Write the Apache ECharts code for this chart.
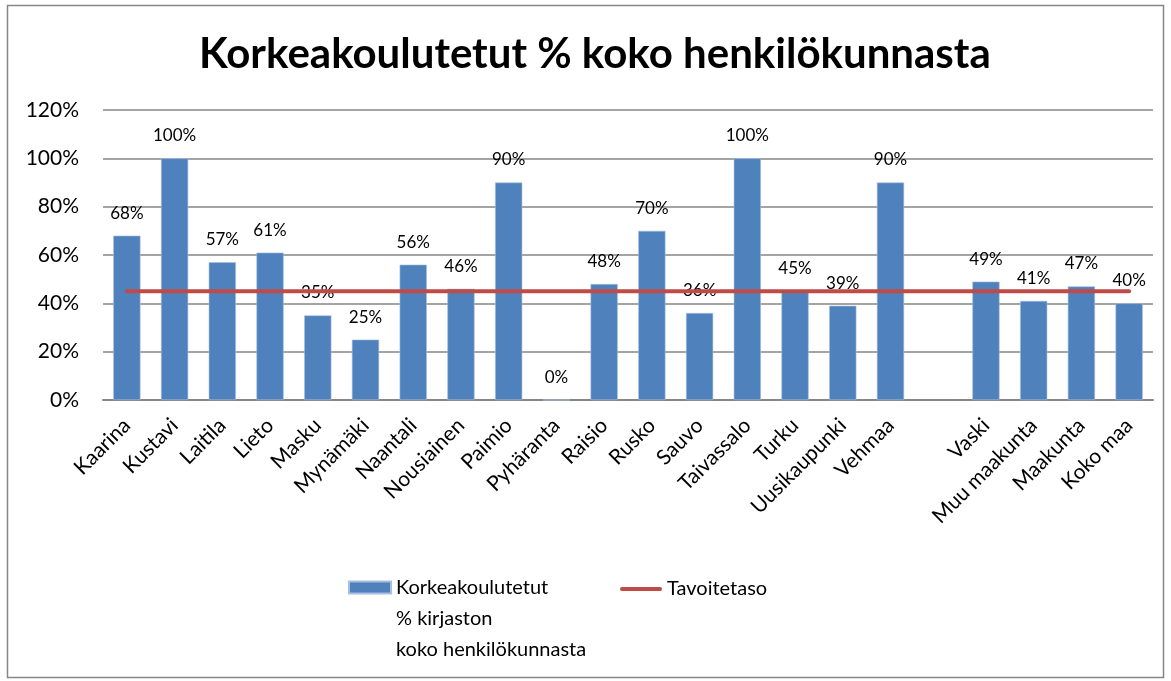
<!DOCTYPE html>
<html lang="fi">
<head>
    <meta charset="UTF-8">
    <title>Korkeakoulutetut</title>
    <script src="https://cdnjs.cloudflare.com/ajax/libs/echarts/6.0.0/echarts.min.js"></script>
    <style>
        html, body { margin: 0; padding: 0; background: #fff; }
    </style>
</head>
<body>
    <div id="main" style="width: 1171px;height:681px;"></div>

    <script>
        // kunnat + vertailut, tyhjä väli Vehmaan ja Vaskin välissä
        const kunnat = ['Kaarina', 'Kustavi', 'Laitila', 'Lieto', 'Masku', 'Mynämäki', 'Naantali',
            'Nousiainen', 'Paimio', 'Pyhäranta', 'Raisio', 'Rusko', 'Sauvo', 'Taivassalo', 'Turku',
            'Uusikaupunki', 'Vehmaa', '', 'Vaski', 'Muu maakunta', 'Maakunta', 'Koko maa'];
        const korkeakoulutetut = [68, 100, 57, 61, 35, 25, 56, 46, 90, 0, 48, 70, 36, 100, 45,
            39, 90, null, 49, 41, 47, 40];
        const tavoitetaso = [45, 45, 45, 45, 45, 45, 45, 45, 45, 45, 45, 45, 45, 45, 45,
            45, 45, 45, 45, 45, 45, 45];
        const yTicks = [0, 20, 40, 60, 80, 100, 120];

        const sarja1 = 'Korkeakoulutetut\n% kirjaston\nkoko henkilökunnasta';
        const sarja2 = 'Tavoitetaso';
        const fontti = 'Lato, "Open Sans", sans-serif';

        const myChart = echarts.init(document.getElementById('main'));

        let option = {
            backgroundColor: '#fff',
            textStyle: { fontFamily: fontti },
            title: {
                text: 'Korkeakoulutetut % koko henkilökunnasta',
                left: 194,
                top: 28,
                textStyle: { fontSize: 42, fontWeight: 'bold', color: '#000', fontFamily: fontti }
            },
            graphic: [{
                type: 'rect',
                shape: { x: 7.5, y: 5.5, width: 1156, height: 672 },
                style: { fill: 'none', stroke: '#868686', lineWidth: 1.5 },
                silent: true
            }],
            legend: [{
                left: 348,
                top: 510,
                padding: 0,
                itemWidth: 42,
                itemHeight: 12,
                data: [{ name: sarja1, icon: 'rect' }],
                // kaksi tyhjää riviä ennen, jotta ensimmäinen rivi on ikonin kohdalla
                formatter: (name) => '\n\n' + name,
                textStyle: { fontSize: 20, lineHeight: 31, color: '#000' }
            }, {
                left: 620,
                top: 579,
                padding: 0,
                itemWidth: 42,
                itemHeight: 5,
                data: [{ name: sarja2, icon: 'path://M2,0 L40,0 A2,2 0 0 1 40,4 L2,4 A2,2 0 0 1 2,0 Z' }],
                textStyle: { fontSize: 20, color: '#000' }
            }],
            grid: {
                left: 103,
                right: 18,
                top: 110,
                bottom: 281,
                containLabel: false
            },
            xAxis: {
                type: 'category',
                data: kunnat,
                axisTick: { show: false },
                axisLine: { lineStyle: { color: '#868686', width: 2 } },
                axisLabel: {
                    rotate: 45,
                    interval: 0,
                    margin: 22,
                    fontSize: 21,
                    color: '#000'
                }
            },
            yAxis: {
                type: 'value',
                min: yTicks[0],
                max: yTicks[yTicks.length - 1],
                interval: 20,
                axisLine: { show: false },
                axisTick: { show: false },
                splitLine: { lineStyle: { color: '#868686', width: 1.5 } },
                axisLabel: {
                    fontSize: 21,
                    color: '#000',
                    margin: 24,
                    formatter: '{value}%'
                }
            },
            series: [
                {
                    name: sarja1,
                    type: 'bar',
                    data: korkeakoulutetut,
                    barCategoryGap: '43%',
                    itemStyle: { color: '#4F81BD', borderColor: '#A7BFDE', borderWidth: 0.6 },
                    label: {
                        show: true,
                        position: 'top',
                        distance: 14,
                        fontSize: 17,
                        color: '#000',
                        formatter: '{c}%'
                    },
                    z: 2
                },
                {
                    name: sarja2,
                    type: 'line',
                    data: tavoitetaso,
                    symbol: 'none',
                    lineStyle: { color: '#BE4B48', width: 4, cap: 'round' },
                    itemStyle: { color: '#BE4B48' },
                    z: 3
                }
            ]
        };

        myChart.setOption(option);
    </script>
</body>
</html>
